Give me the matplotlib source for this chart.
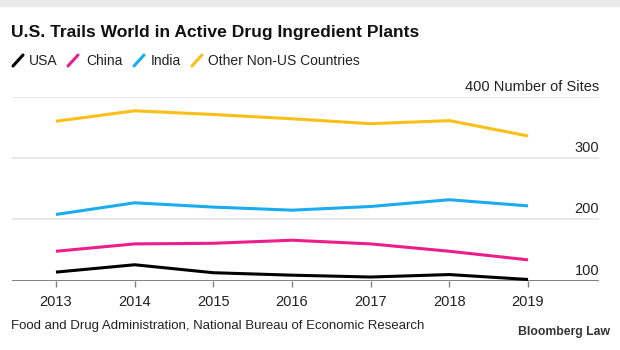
import matplotlib
matplotlib.use("Agg")
import matplotlib.pyplot as plt
from matplotlib.lines import Line2D

years = [2013, 2014, 2015, 2016, 2017, 2018, 2019]
usa = [114, 126, 113, 109, 106, 110, 102]
china = [148, 160, 161, 166, 160, 148, 134]
india = [208, 227, 220, 215, 221, 232, 222]
other = [360, 377, 371, 364, 356, 361, 336]
series_names = ["USA", "China", "India", "Other Non-US Countries"]
colors = ["#000000", "#ec1e8c", "#1aacee", "#fcbf18"]
yticks = [100, 200, 300, 400]
ytick_labels = ["100", "200", "300", "400 Number of Sites"]

plt.rcParams['font.family'] = ['Liberation Sans', 'DejaVu Sans']
W, H = 620, 350
fig = plt.figure(figsize=(6.2, 3.5), dpi=100)
fig.patch.set_facecolor("white")


def fx(px):
    return px / W


def fy(py):
    return 1 - py / H


# top gray band
fig.patches.append(plt.Rectangle((0, fy(6)), 1, 6 / H, transform=fig.transFigure,
                                 color="#ebebeb", zorder=0))

ax = fig.add_axes([fx(12), fy(280.7), (599 - 12) / W, (280.7 - 96.7) / H])
ax.set_xlim(2012.441, 2019.902)
ax.set_ylim(100, 400)

for y in yticks[1:]:
    ax.axhline(y, color="#e2e2e2", lw=1.1, zorder=1)
ax.axhline(100, color="#808080", lw=1.4, zorder=3)

for vals, c in zip([usa, china, india, other], colors):
    ax.plot(years, vals, color=c, lw=2.2, zorder=4, solid_capstyle="butt")

for s in ax.spines.values():
    s.set_visible(False)
ax.set_yticks([])
ax.set_xticks(years)
ax.set_xticklabels([str(y) for y in years], fontsize=10.5, color="#222222")
ax.tick_params(axis="x", length=4.5, width=1, color="#808080", pad=6)

for y, lab in zip(yticks, ytick_labels):
    ax.text(1.0, y + 5, lab, transform=ax.get_yaxis_transform(), ha="right", va="bottom",
            fontsize=10.5, color="#222222")

fig.text(fx(11), fy(32), "U.S. Trails World in Active Drug Ingredient Plants",
         fontsize=12.6, fontweight="bold", color="#111111", va="center", ha="left")

# legend: slash marks + labels
leg_slash_x = [13, 68, 134, 192]
leg_text_x = [29, 86, 151, 208]
for sx, tx, c, name in zip(leg_slash_x, leg_text_x, colors, series_names):
    fig.add_artist(Line2D([fx(sx), fx(sx + 10)], [fy(66), fy(55)], transform=fig.transFigure,
                          color=c, lw=2.2, solid_capstyle="round"))
    fig.text(fx(tx), fy(61), name, fontsize=10, color="#222222", va="center", ha="left")

fig.text(fx(11), fy(326), "Food and Drug Administration, National Bureau of Economic Research",
         fontsize=9.5, color="#222222", va="center", ha="left")
fig.text(fx(610), fy(332), "Bloomberg Law", fontsize=8.8, fontweight="bold",
         color="#333333", va="center", ha="right")

fig.savefig("out.png", dpi=100, facecolor="white")
